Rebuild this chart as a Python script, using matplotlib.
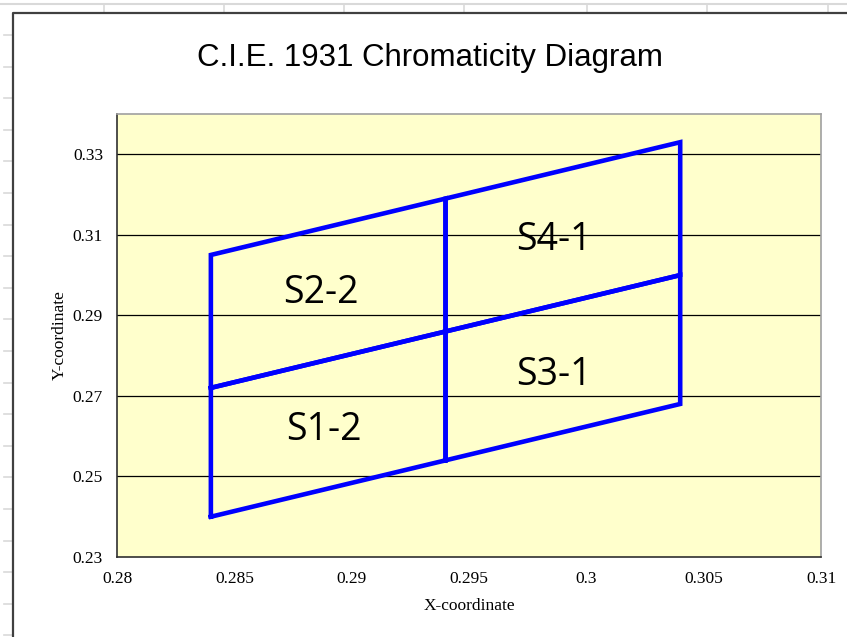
import numpy as np
import matplotlib
matplotlib.use('Agg')
import matplotlib.pyplot as plt
from matplotlib.lines import Line2D

# bin corner points (x, y) for the three vertical edges
x_edges = [0.284, 0.294, 0.304]
y_bottom = [0.240, 0.254, 0.268]
y_middle = [0.272, 0.286, 0.300]
y_top = [0.305, 0.319, 0.333]

bin_names = ['S1-2', 'S2-2', 'S3-1', 'S4-1']
bin_label_x = [0.2888, 0.2887, 0.2986, 0.2986]
bin_label_y = [0.2615, 0.2956, 0.2752, 0.3088]

x_ticks = [0.28, 0.285, 0.29, 0.295, 0.3, 0.305, 0.31]
x_tick_labels = ['0.28', '0.285', '0.29', '0.295', '0.3', '0.305', '0.31']
y_ticks = [0.23, 0.25, 0.27, 0.29, 0.31, 0.33]
y_tick_labels = ['0.23', '0.25', '0.27', '0.29', '0.31', '0.33']


def plotGraphs():
  W, H = 847, 637
  fig = plt.figure(figsize=(W/100.0, H/100.0), dpi=100)
  fig.patch.set_facecolor('white')

  # spreadsheet background lines
  fig.add_artist(Line2D([0, 1], [1-4.0/H, 1-4.0/H], color='#d9d9d9', lw=1.5))
  for cx in [104, 224, 344, 464, 587, 707, 828]:
    fig.add_artist(Line2D([cx/float(W)]*2, [1-4.0/H, 1-13.0/H], color='#d9d9d9', lw=1.2))
  for ry in np.arange(35, 637, 31.6):
    fig.add_artist(Line2D([4.0/W, 12.0/W], [1-ry/H]*2, color='#d9d9d9', lw=1.2))
  # chart area border
  fig.add_artist(Line2D([13.0/W, 13.0/W, 1.0], [0, 1-13.0/H, 1-13.0/H], color='#404040', lw=1.6))

  ax = fig.add_axes([117.0/W, 1-557.0/H, (821-117.0)/W, (557-114.0)/H])
  ax.set_facecolor('#FFFFCC')

  # horizontal gridlines
  for yt in y_ticks[1:]:
    ax.axhline(yt, color='black', lw=0.9, zorder=1)

  # bins
  lines_kw = dict(color='#0000FF', lw=3.3, solid_joinstyle='miter', zorder=3)
  for i in range(2):
    xs = [x_edges[i], x_edges[i+1], x_edges[i+1], x_edges[i], x_edges[i]]
    ax.plot(xs, [y_bottom[i], y_bottom[i+1], y_middle[i+1], y_middle[i], y_bottom[i]], **lines_kw)
    ax.plot(xs, [y_middle[i], y_middle[i+1], y_top[i+1], y_top[i], y_middle[i]], **lines_kw)

  for name, lx, ly in zip(bin_names, bin_label_x, bin_label_y):
    ax.text(lx, ly, name, ha='center', va='center', fontsize=27, family='Open Sans', color='black', zorder=4)

  ax.set_xlim(0.28, 0.31)
  ax.set_ylim(0.23, 0.34)
  ax.set_xticks(x_ticks)
  ax.set_xticklabels(x_tick_labels, family='Liberation Serif', fontsize=12.5)
  ax.set_yticks(y_ticks)
  ax.set_yticklabels(y_tick_labels, family='Liberation Serif', fontsize=12.5)
  ax.tick_params(axis='x', length=0, pad=10)
  ax.tick_params(axis='y', length=0, pad=10)

  for s in ['left', 'bottom']:
    ax.spines[s].set_color('#303030')
    ax.spines[s].set_linewidth(1.2)
  for s in ['top', 'right']:
    ax.spines[s].set_color('#a0a0a0')
    ax.spines[s].set_linewidth(1.2)

  ax.set_xlabel('X-coordinate', family='Liberation Serif', fontsize=12.5, labelpad=8)
  ax.set_ylabel('Y-coordinate', family='Liberation Serif', fontsize=12.5, labelpad=4)

  fig.text(430.0/W, 1-58.0/H, 'C.I.E. 1931 Chromaticity Diagram', ha='center', va='center',
           family='Liberation Sans', fontsize=22.5)

  plt.savefig('out.png', dpi=100)


if __name__ == "__main__":
  plotGraphs()
